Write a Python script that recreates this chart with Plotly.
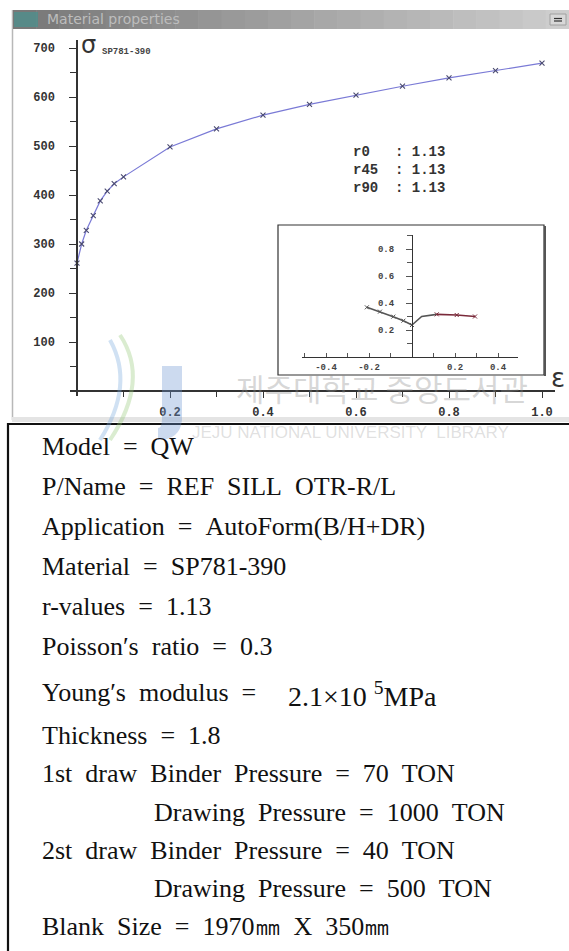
import plotly.graph_objects as go

W, H = 569, 951

def px(x):
    return x / W

def py(y):
    return 1 - y / H

# ---------------- data ----------------
strain = [0.0, 0.01, 0.02, 0.035, 0.05, 0.065, 0.08, 0.1, 0.2, 0.3, 0.4, 0.5, 0.6, 0.7, 0.8, 0.9, 1.0]
stress = [261, 300, 328, 358, 388, 408, 423, 437, 498, 535, 563, 585, 604, 622, 639, 654, 669]

flc_left_minor = [-0.21, -0.149, -0.087, -0.04, 0.0]
flc_left_major = [0.368, 0.336, 0.299, 0.269, 0.237]
flc_right_minor = [0.0, 0.045, 0.115, 0.208, 0.293]
flc_right_major = [0.237, 0.300, 0.316, 0.311, 0.300]

y_ticks = [100, 200, 300, 400, 500, 600, 700]
y_minor = [50, 150, 250, 350, 450, 550, 650]
x_ticks = [0.2, 0.4, 0.6, 0.8, 1.0]
x_minor = [0.1, 0.3, 0.5, 0.7, 0.9]
in_x_ticks = [-0.4, -0.2, 0.2, 0.4]
in_x_minor = [-0.5, -0.3, -0.1, 0.1, 0.3, 0.5]
in_y_ticks = [0.2, 0.4, 0.6, 0.8]
in_y_minor = [0.1, 0.3, 0.5, 0.7, 0.9]

r_labels = ["r0", "r45", "r90"]
r_vals = ["1.13", "1.13", "1.13"]

info_lines = [
    ("Model = QW", 0),
    ("P/Name = REF SILL OTR-R/L", 0),
    ("Application = AutoForm(B/H+DR)", 0),
    ("Material = SP781-390", 0),
    ("r-values = 1.13", 0),
    ("Poisson′s ratio = 0.3", 0),
    ("Young′s modulus = ", 0),
    ("Thickness = 1.8", 0),
    ("1st draw Binder Pressure = 70 TON", 0),
    ("Drawing Pressure = 1000 TON", 1),
    ("2st draw Binder Pressure = 40 TON", 0),
    ("Drawing Pressure = 500 TON", 1),
    ("Blank Size = 1970㎜ X 350㎜", 0),
]
info_y = [446, 486, 526, 566, 606, 646, 692, 735, 773, 812, 850, 888, 926]

# ---------------- figure ----------------
fig = go.Figure()

fig.add_trace(go.Scatter(
    x=strain, y=stress, mode="lines+markers",
    line=dict(color="#7a7ad6", width=1.2),
    marker=dict(symbol="x-thin", size=5, line=dict(color="#4a4a70", width=1.1)),
    xaxis="x", yaxis="y", showlegend=False, hoverinfo="skip",
))
fig.add_trace(go.Scatter(
    x=flc_left_minor, y=flc_left_major, mode="lines+markers",
    line=dict(color="#555555", width=1.6),
    marker=dict(symbol="x-thin", size=4, line=dict(color="#555555", width=1)),
    xaxis="x2", yaxis="y2", showlegend=False, hoverinfo="skip",
))
fig.add_trace(go.Scatter(
    x=flc_right_minor[:3], y=flc_right_major[:3], mode="lines",
    line=dict(color="#555555", width=1.6),
    xaxis="x2", yaxis="y2", showlegend=False, hoverinfo="skip",
))
fig.add_trace(go.Scatter(
    x=flc_right_minor[2:], y=flc_right_major[2:], mode="lines+markers",
    line=dict(color="#7a2a3a", width=1.6),
    marker=dict(symbol="x-thin", size=4, line=dict(color="#7a2a3a", width=1)),
    xaxis="x2", yaxis="y2", showlegend=False, hoverinfo="skip",
))

tick_font = dict(family="Liberation Mono", size=12, color="#333333", weight="bold")
small_font = dict(family="Liberation Mono", size=9, color="#444444", weight="bold")

shapes = []
# window frame
shapes.append(dict(type="line", xref="paper", yref="paper", x0=px(12.5), x1=px(12.5), y0=py(10), y1=py(420),
                   line=dict(color="#b8b8b8", width=1.5)))
shapes.append(dict(type="rect", xref="paper", yref="paper", x0=px(12), x1=px(569), y0=py(422), y1=py(417),
                   fillcolor="#e4e4e4", line=dict(width=0)))
# title bar gradient
n = 24
for i in range(n):
    x0 = 13 + (569 - 13) * i / n
    x1 = 13 + (569 - 13) * (i + 1) / n
    t = i / (n - 1)
    c = int(120 + (205 - 120) * t)
    shapes.append(dict(type="rect", xref="paper", yref="paper", x0=px(x0), x1=px(x1) + 0.001,
                       y0=py(29), y1=py(10), fillcolor=f"rgb({c},{c},{c})", line=dict(width=0)))
shapes.append(dict(type="rect", xref="paper", yref="paper", x0=px(14), x1=px(38), y0=py(27), y1=py(12),
                   fillcolor="#4f8f8c", line=dict(width=0), opacity=0.8))
shapes.append(dict(type="rect", xref="paper", yref="paper", x0=px(550), x1=px(566), y0=py(25), y1=py(14),
                   fillcolor="#d8d8d8", line=dict(color="#a0a0a0", width=1)))
shapes.append(dict(type="line", xref="paper", yref="paper", x0=px(554), x1=px(562), y0=py(18.5), y1=py(18.5),
                   line=dict(color="#333333", width=1.2)))
shapes.append(dict(type="line", xref="paper", yref="paper", x0=px(554), x1=px(562), y0=py(21), y1=py(21),
                   line=dict(color="#333333", width=1.2)))
# inset box
shapes.append(dict(type="rect", xref="paper", yref="paper", x0=px(278), x1=px(544), y0=py(375), y1=py(225),
                   fillcolor="white", line=dict(color="#333333", width=1.2), layer="below"))
shapes.append(dict(type="line", xref="paper", yref="paper", x0=px(545), x1=px(545), y0=py(376), y1=py(226),
                   line=dict(color="#555555", width=2)))
# info box
shapes.append(dict(type="rect", xref="paper", yref="paper", x0=px(8), x1=px(580), y0=py(960), y1=py(424),
                   fillcolor="rgba(0,0,0,0)", line=dict(color="#111111", width=2.2)))
# watermark logo (faint)
shapes.append(dict(type="path", xref="paper", yref="paper",
                   path=f"M {px(162)} {py(366)} L {px(182)} {py(366)} L {px(182)} {py(420)} "
                        f"Q {px(180)} {py(440)} {px(158)} {py(440)} L {px(158)} {py(428)} "
                        f"Q {px(162)} {py(428)} {px(162)} {py(418)} Z",
                   fillcolor="rgba(110,150,210,0.35)", line=dict(width=0)))
shapes.append(dict(type="path", xref="paper", yref="paper",
                   path=f"M {px(120)} {py(335)} Q {px(150)} {py(380)} {px(110)} {py(440)}",
                   line=dict(color="rgba(150,200,120,0.35)", width=4)))
shapes.append(dict(type="path", xref="paper", yref="paper",
                   path=f"M {px(110)} {py(340)} Q {px(135)} {py(385)} {px(100)} {py(440)}",
                   line=dict(color="rgba(120,170,220,0.35)", width=4)))

annotations = []
annotations.append(dict(text="Material properties", x=px(45), y=py(19), xref="paper", yref="paper",
                        xanchor="left", yanchor="middle", showarrow=False,
                        font=dict(family="DejaVu Sans", size=14, color="#bdbdbd")))
annotations.append(dict(text="σ", x=px(79), y=py(45), xref="paper", yref="paper",
                        xanchor="left", yanchor="middle", showarrow=False,
                        font=dict(family="DejaVu Sans", size=24, color="#333333")))
annotations.append(dict(text="SP781-390", x=px(100), y=py(52), xref="paper", yref="paper",
                        xanchor="left", yanchor="middle", showarrow=False, font=small_font))
annotations.append(dict(text="ε", x=px(549), y=py(378), xref="paper", yref="paper",
                        xanchor="left", yanchor="middle", showarrow=False,
                        font=dict(family="DejaVu Sans", size=26, color="#333333")))
for i, (lab, val) in enumerate(zip(r_labels, r_vals)):
    annotations.append(dict(text=f"{lab:<5}: {val}", x=px(351), y=py(152 + 18 * i), xref="paper", yref="paper",
                            xanchor="left", yanchor="middle", showarrow=False,
                            font=dict(family="Liberation Mono", size=14, color="#333333", weight="bold")))

# watermark text
annotations.append(dict(text="제주대학교 중앙도서관", x=px(234), y=py(387), xref="paper", yref="paper",
                        xanchor="left", yanchor="middle", showarrow=False,
                        font=dict(family="Noto Sans CJK KR", size=31, color="rgba(140,140,140,0.35)")))
annotations.append(dict(text="JEJU NATIONAL UNIVERSITY  LIBRARY", x=px(190), y=py(432), xref="paper", yref="paper",
                        xanchor="left", yanchor="middle", showarrow=False,
                        font=dict(family="Liberation Sans", size=17, color="rgba(150,150,150,0.3)")))

serif = "Liberation Serif"
for (txt, indent), yy in zip(info_lines, info_y):
    t = txt.replace(" ", "\u00a0\u00a0")
    annotations.append(dict(text=t, x=px(152 if indent else 40), y=py(yy), xref="paper", yref="paper",
                            xanchor="left", yanchor="middle", showarrow=False,
                            font=dict(family=serif, size=26, color="#111111")))
annotations.append(dict(text="2.1×10\u00a0<sup>5</sup>MPa", x=px(286), y=py(694), xref="paper", yref="paper",
                        xanchor="left", yanchor="middle", showarrow=False,
                        font=dict(family=serif, size=28, color="#111111")))

fig.update_layout(
    width=W, height=H, margin=dict(l=0, r=0, t=0, b=0),
    paper_bgcolor="white", plot_bgcolor="rgba(0,0,0,0)",
    showlegend=False,
    xaxis=dict(domain=[px(70), px(555)], anchor="free", position=py(391),
               range=[(70 - 77) / 465, (555 - 77) / 465],
               showgrid=False, zeroline=False, showline=True, linecolor="#333333", linewidth=1.5,
               tickmode="array", tickvals=x_ticks, ticktext=[f"{v:.1f}" for v in x_ticks],
               ticks="outside", ticklen=6, tickwidth=1.2, tickcolor="#333333", tickfont=tick_font,
               minor=dict(tickvals=x_minor, ticks="outside", ticklen=5, tickcolor="#333333"),
               ticklabelstandoff=4),
    yaxis=dict(domain=[py(396), py(40)], anchor="free", position=px(77),
               range=[-(396 - 391) / 0.49, (391 - 40) / 0.49],
               showgrid=False, zeroline=False, showline=True, linecolor="#333333", linewidth=1.5,
               tickmode="array", tickvals=y_ticks, ticktext=[str(v) for v in y_ticks],
               ticks="outside", ticklen=7, tickwidth=1.2, tickcolor="#333333", tickfont=tick_font,
               minor=dict(tickvals=y_minor, ticks="outside", ticklen=6, tickcolor="#333333"),
               ticklabelstandoff=12),
    xaxis2=dict(domain=[px(302), px(518)], anchor="free", position=py(357),
                range=[(302 - 412) / 215, (518 - 412) / 215],
                showgrid=False, zeroline=False, showline=True, linecolor="#333333", linewidth=1.2,
                tickmode="array", tickvals=in_x_ticks, ticktext=[f"{v:.1f}" for v in in_x_ticks],
                ticks="inside", ticklen=4, tickcolor="#555555", tickfont=small_font,
                minor=dict(tickvals=in_x_minor, ticks="inside", ticklen=4, tickcolor="#555555"),
                ticklabelstandoff=1),
    yaxis2=dict(domain=[py(357), py(235)], anchor="free", position=px(412),
                range=[0, (357 - 235) / 135],
                showgrid=False, zeroline=False, showline=True, linecolor="#333333", linewidth=1.2,
                tickmode="array", tickvals=in_y_ticks, ticktext=[f"{v:.1f}" for v in in_y_ticks],
                ticks="outside", ticklen=6, tickcolor="#555555", tickfont=small_font,
                minor=dict(tickvals=in_y_minor, ticks="outside", ticklen=5, tickcolor="#555555"),
                ticklabelstandoff=10),
    shapes=shapes,
    annotations=annotations,
)

fig.write_html("out.html",
               config={"displayModeBar": False},
               post_script="document.body.style.margin='0px';document.body.style.padding='0px';"
                           "document.body.style.overflow='hidden';")
